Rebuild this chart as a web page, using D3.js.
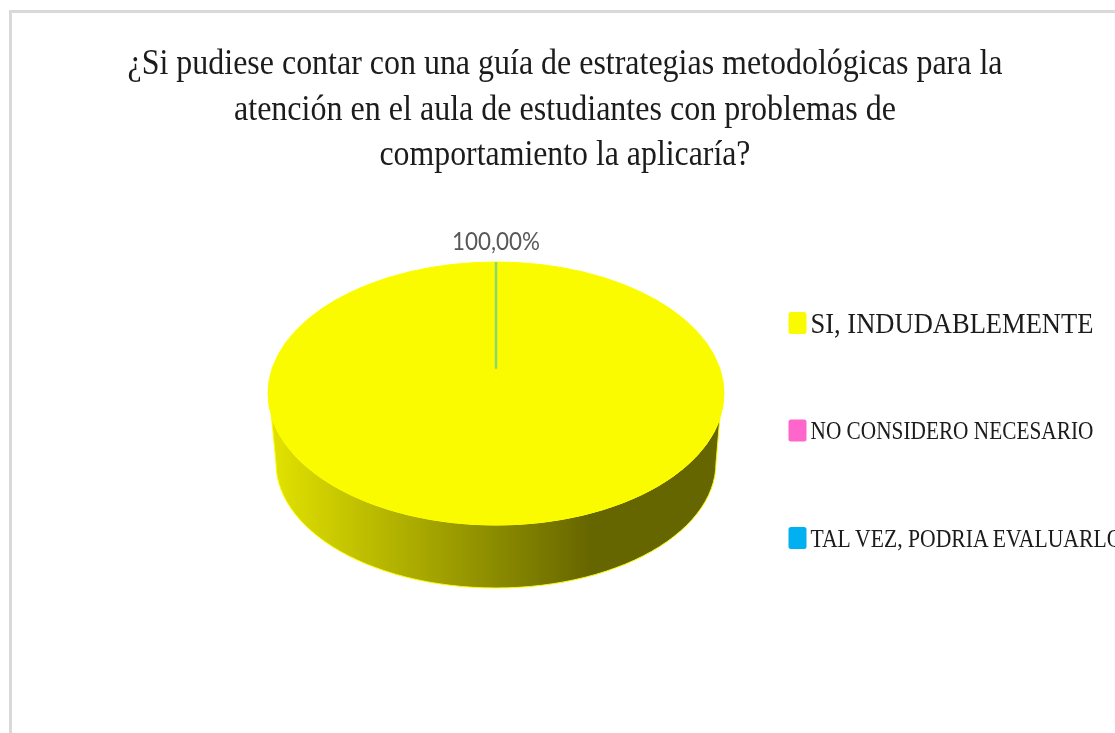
<!DOCTYPE html>
<html>
<head>
<meta charset="utf-8">
<script src="https://d3js.org/d3.v7.min.js"></script>
<style>
    html, body { margin: 0; padding: 0; background: #fff; overflow: hidden; }
    text { font-family: "Liberation Serif", serif; fill: #1a1a1a; }
</style>
</head>
<body>
<div id="canvas"></div>
<script>
var categories = ["SI, INDUDABLEMENTE", "NO CONSIDERO NECESARIO", "TAL VEZ, PODRIA EVALUARLO"]
var values = [100, 0, 0]
var colors = ["#fbfb00", "#ff66cc", "#00b0f0"]
var titleLines = [
    "¿Si pudiese contar con una guía de estrategias metodológicas para la",
    "atención en el aula de estudiantes con problemas de",
    "comportamiento la aplicaría?"
]
var percentLabel = "100,00%"

var width = 1115
var height = 733

var svg = d3.select("#canvas")
    .append("svg")
    .attr("width", width)
    .attr("height", height)
    .style("display", "block")

var defs = svg.append("defs")

// the picture is a soft, resized screenshot
defs.append("filter").attr("id", "soft")
    .append("feGaussianBlur").attr("stdDeviation", 0.45)

var grad = defs.append("linearGradient")
    .attr("id", "side")
    .attr("gradientUnits", "userSpaceOnUse")
    .attr("x1", 272).attr("x2", 590)
    .attr("y1", 0).attr("y2", 0)
grad.append("stop").attr("offset", 0).attr("stop-color", "#e2e200")
grad.append("stop").attr("offset", 1).attr("stop-color", "#666600")

// chart frame, only top and left show
svg.append("path")
    .attr("d", `M10.5,${height} V11.5 H${width}`)
    .attr("fill", "none")
    .attr("stroke", "#d9d9d9")
    .attr("stroke-width", 3)

var titleWidths = [875, 662, 371]
var title = svg.append("g").attr("filter", "url(#soft)")
title.selectAll("text")
    .data(titleLines)
    .enter()
    .append("text")
    .attr("x", 565)
    .attr("y", function (d, i) { return 74 + i * 45.5 })
    .attr("text-anchor", "middle")
    .attr("font-size", 36)
    .attr("textLength", function (d, i) { return titleWidths[i] })
    .attr("lengthAdjust", "spacingAndGlyphs")
    .text(function (d) { return d })

// pie, top face is a circle squashed into an ellipse
var cx = 496, cy = 393.5, rx = 228, ry = 131.5
var bx = 220, by = 125, bcy = 463

var pie = d3.pie().sort(null).startAngle(0).endAngle(2 * Math.PI)
var arcs = pie(values)
// the empty slices only show as a line that stops short of the ellipse centre (perspective)
var arc = d3.arc()
    .innerRadius(function (d) { return d.value == 0 ? 43 : 0 })
    .outerRadius(rx)

function ringPoint(a, x0, y0, rr, ss) {
    return [x0 + rr * Math.cos(a), y0 + ss * Math.sin(a)]
}

// side wall: front of the lower rim, then back along the front of the top rim
var lower = d3.range(0, 181, 3).map(function (deg) {
    return ringPoint(deg * Math.PI / 180, cx, bcy, bx, by)
})
var upper = d3.range(170, 9, -3).map(function (deg) {
    return ringPoint(deg * Math.PI / 180, cx, cy, rx, ry)
})

var chart = svg.append("g").attr("filter", "url(#soft)")

chart.append("path")
    .attr("d", d3.line().curve(d3.curveLinear)(lower.concat(upper)) + "Z")
    .attr("fill", "url(#side)")
    .attr("stroke", "#fbfb00")
    .attr("stroke-width", 1)

var topFace = chart.append("g")
    .attr("transform", `translate(${cx},${cy}) scale(1,${ry / rx})`)

topFace.selectAll("path")
    .data(arcs)
    .enter()
    .append("path")
    .attr("d", arc)
    .attr("fill", function (d, i) { return colors[i] })
    .attr("stroke", function (d, i) { return i == 1 ? "none" : colors[i] })
    .attr("stroke-width", function (d, i) { return i == 0 ? 1 : 2.5 })
    .attr("stroke-opacity", function (d, i) { return i == 0 ? 1 : 0.45 })
    .attr("vector-effect", "non-scaling-stroke")

svg.append("text")
    .attr("x", 496)
    .attr("y", 250)
    .attr("text-anchor", "middle")
    .attr("font-size", 25)
    .attr("textLength", 88)
    .attr("lengthAdjust", "spacingAndGlyphs")
    .attr("filter", "url(#soft)")
    .style("font-family", "Lato, 'Open Sans', sans-serif")
    .style("fill", "#595959")
    .text(percentLabel)

// legend
var legendY = d3.scalePoint().domain(categories).range([323, 538])
var legendSize = [30, 25, 25]
var legendWidth = [283, 283, 312]

var legend = svg.append("g")
    .attr("filter", "url(#soft)")
    .selectAll("g")
    .data(categories)
    .enter()
    .append("g")
    .attr("transform", function (d) { return `translate(0,${legendY(d)})` })

legend.append("rect")
    .attr("x", 788.5)
    .attr("y", -11)
    .attr("width", 18)
    .attr("height", 22)
    .attr("rx", 2.5)
    .attr("fill", function (d, i) { return colors[i] })

// squeezed sideways to fit, the glyphs in the picture are narrow
legend.append("text")
    .attr("font-size", function (d, i) { return legendSize[i] })
    .text(function (d) { return d })
    .attr("transform", function (d, i) {
        var sx = legendWidth[i] / this.getComputedTextLength()
        return `translate(810.5,${i == 1 ? 8 : i == 0 ? 10 : 9}) scale(${sx},1)`
    })
</script>
</body>
</html>
